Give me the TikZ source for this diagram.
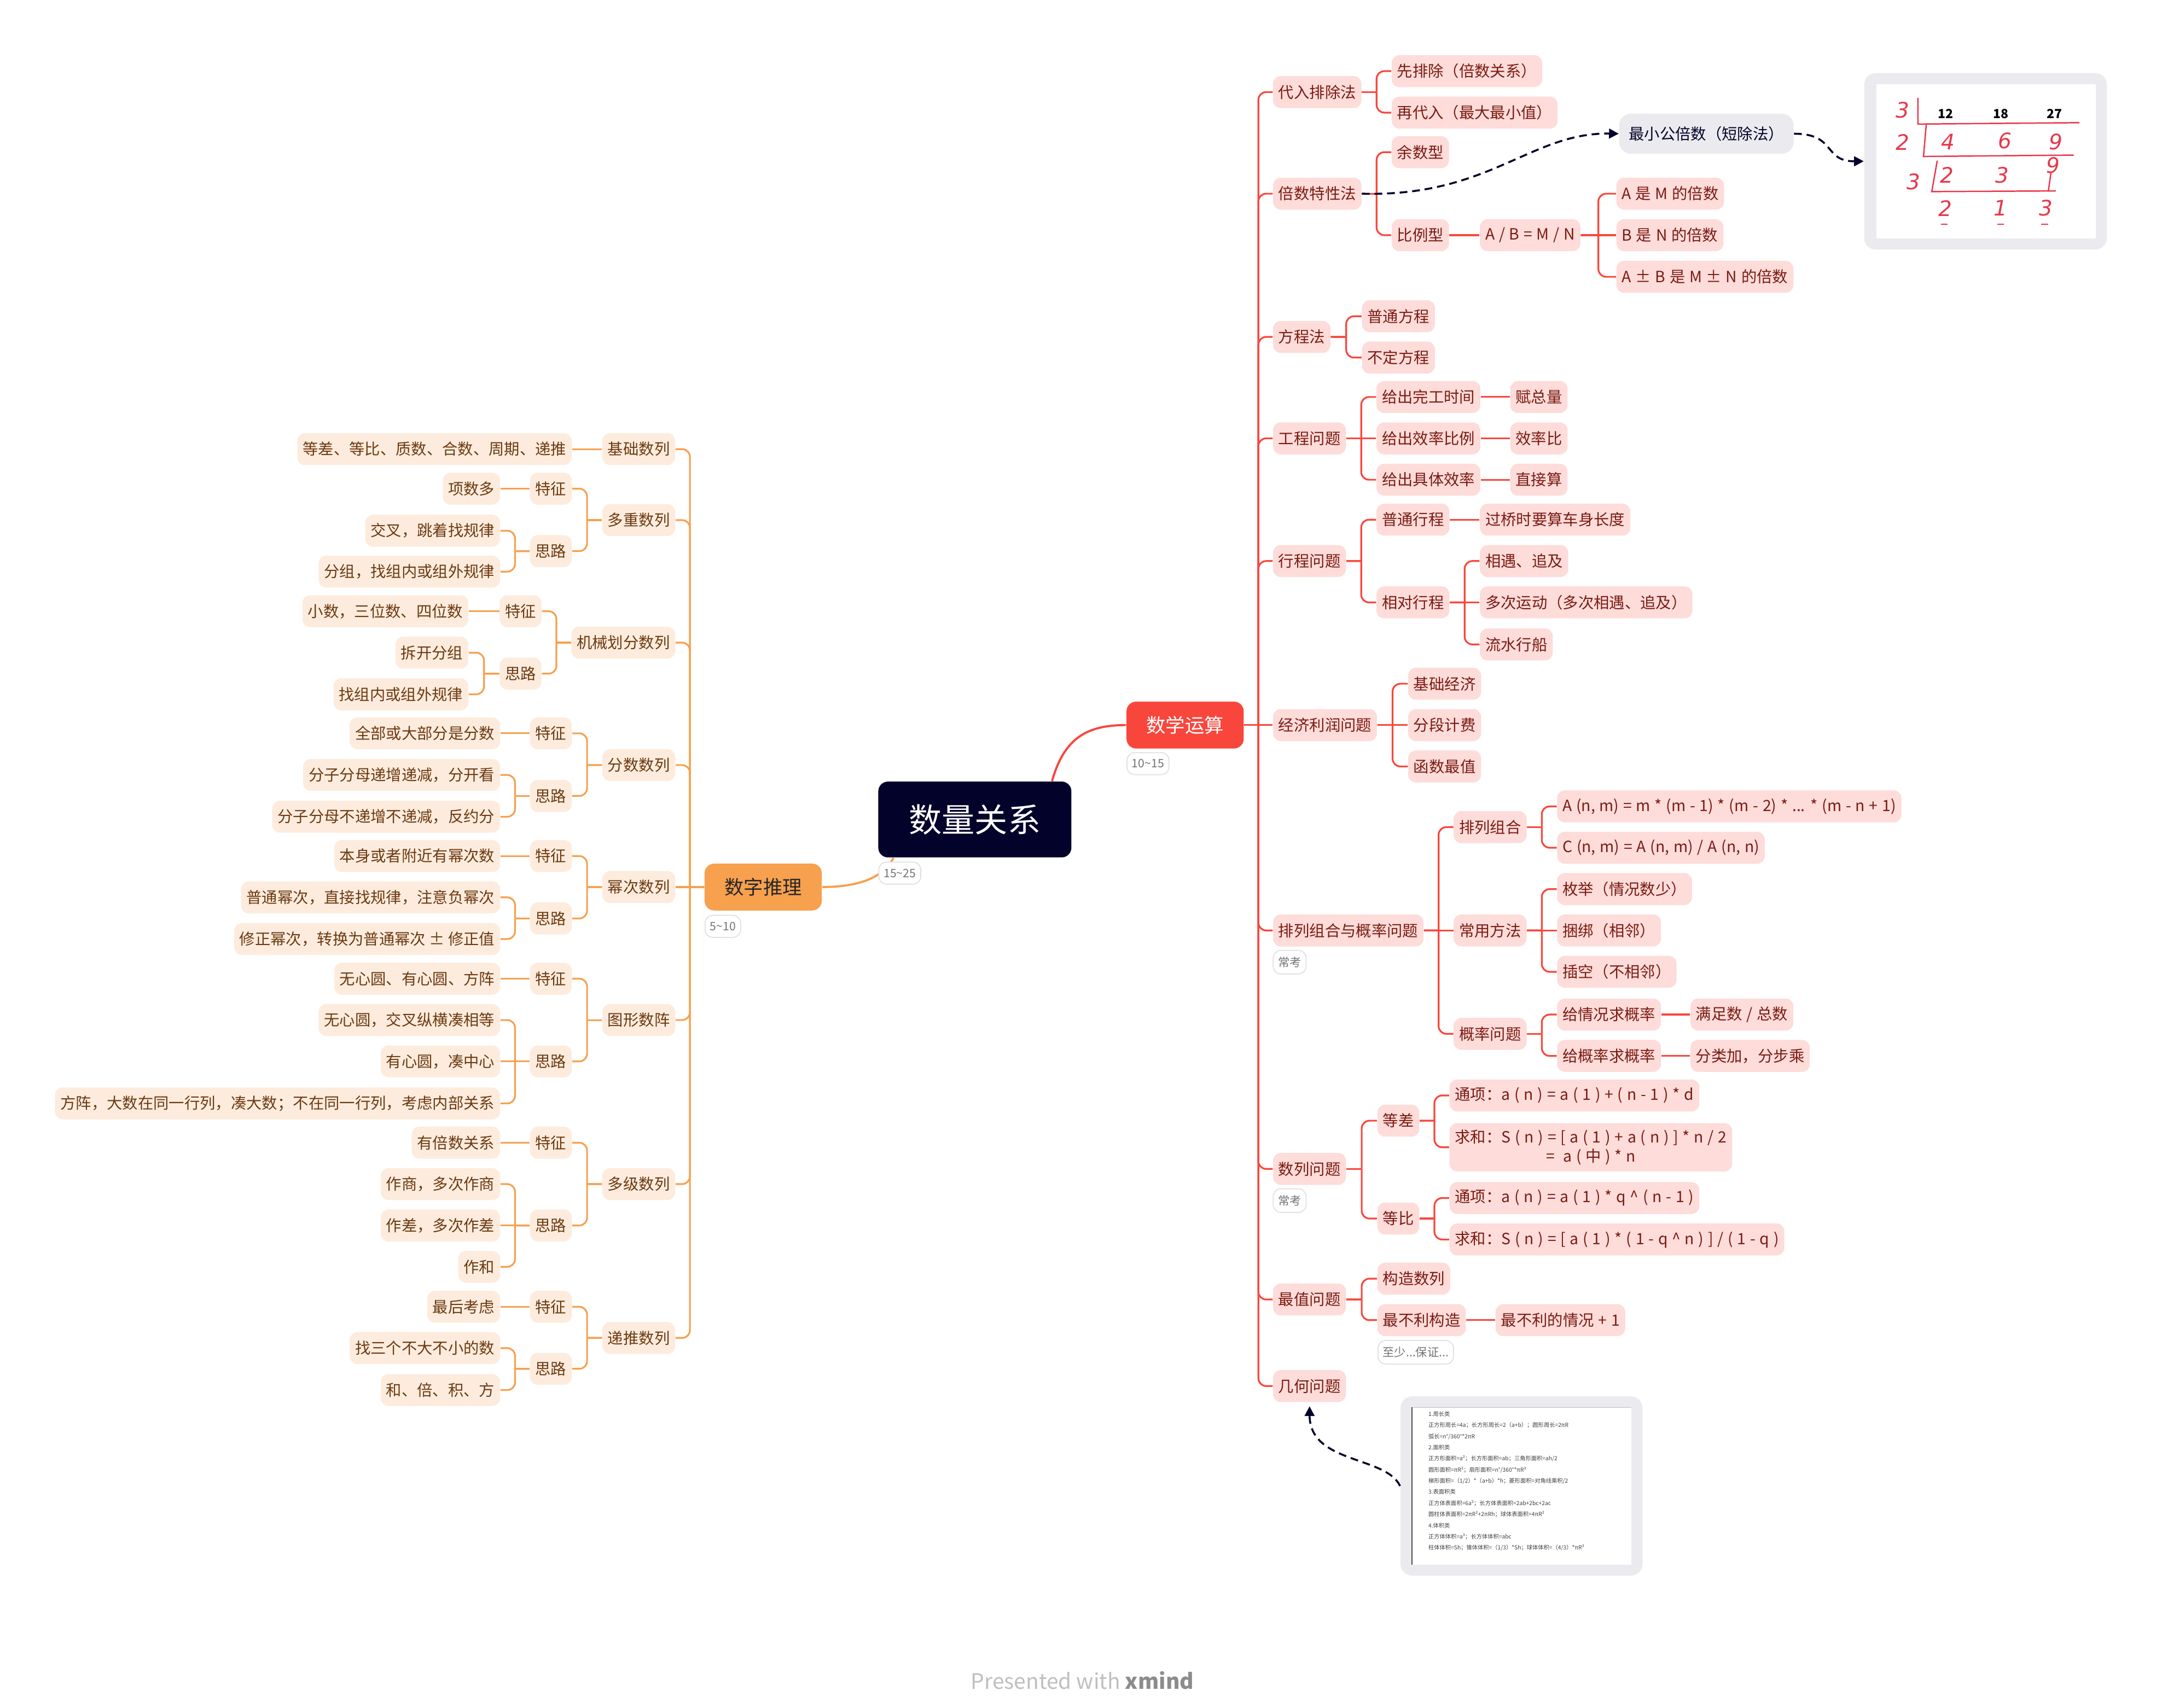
\documentclass[tikz,border=0pt]{standalone}
\usepackage{fontspec}
\setmainfont{Noto Sans CJK SC}
\newfontfamily\fmlfont{Noto Sans CJK SC}[WordSpace=1.22]
\newfontfamily\handfont{DejaVu Sans}
\usetikzlibrary{calc,arrows.meta}

\definecolor{navyc}{HTML}{02022A}
\definecolor{redc}{HTML}{F9463C}
\definecolor{pinkc}{HTML}{FDDCDA}
\definecolor{redtxt}{HTML}{7A1B12}
\definecolor{orac}{HTML}{F7A04E}
\definecolor{creamc}{HTML}{FDECDD}
\definecolor{brtxt}{HTML}{6B3A12}
\definecolor{grayc}{HTML}{EBEBEF}
\definecolor{handc}{HTML}{E8374A}

\newdimen\ya
\newdimen\yb
% right side: parent -> children, bar half way
\newcommand{\rlink}[2]{%
  \foreach \kid in {#2}{%
    \pgfextracty{\ya}{\pgfpointanchor{#1}{east}}%
    \pgfextracty{\yb}{\pgfpointanchor{\kid}{west}}%
    \pgfmathtruncatemacro{\same}{abs(\ya-\yb)<0.5}%
    \ifnum\same=1
      \draw[rline] (#1.east) -- (\kid.west);
    \else
      \draw[rline] (#1.east) -- ($(#1.east)!0.5!(#1.east -| \kid.west)$);
      \draw[rline, rounded corners=4pt] ($(#1.east)!0.5!(#1.east -| \kid.west)$) |- (\kid.west);
    \fi
  }}
% left side
\newcommand{\llink}[2]{%
  \foreach \kid in {#2}{%
    \pgfextracty{\ya}{\pgfpointanchor{#1}{west}}%
    \pgfextracty{\yb}{\pgfpointanchor{\kid}{east}}%
    \pgfmathtruncatemacro{\same}{abs(\ya-\yb)<0.5}%
    \ifnum\same=1
      \draw[oline] (#1.west) -- (\kid.east);
    \else
      \draw[oline] (#1.west) -- ($(#1.west)!0.5!(#1.west -| \kid.east)$);
      \draw[oline, rounded corners=4pt] ($(#1.west)!0.5!(#1.west -| \kid.east)$) |- (\kid.east);
    \fi
  }}

\begin{document}
\begin{tikzpicture}[x=0.025cm, y=-0.025cm,
  rline/.style={draw=redc, line width=0.9pt},
  oline/.style={draw=orac, line width=0.9pt},
  dlink/.style={draw=navyc, line width=1pt, dash pattern=on 4pt off 2.5pt, -{Triangle[length=5pt,width=5pt]}},
  rnode/.style={anchor=west, fill=pinkc, text=redtxt, rounded corners=4pt, inner xsep=2.8pt, minimum height=0.58cm, font=\fontsize{8}{10}\selectfont},
  fml/.style={font=\fmlfont\fontsize{8}{10}\selectfont},
  lnode/.style={anchor=east, fill=creamc, text=brtxt, rounded corners=4pt, inner xsep=2.8pt, minimum height=0.58cm, font=\fontsize{8}{10}\selectfont},
  pill/.style={anchor=west, fill=white, draw=black!12, line width=0.5pt, rounded corners=4pt, text=black!55, inner xsep=2.5pt, minimum height=0.4cm, font=\fontsize{6}{7}\selectfont},
  gbox/.style={fill=grayc, rounded corners=6pt},
  handnum/.style={text=handc, inner sep=0pt, font=\handfont\itshape\fontsize{11}{11}\selectfont}]

  \useasboundingbox (0,0) rectangle (1568,1239);

  % central topic and main branches
  \node[fill=navyc, text=white, rounded corners=5pt, minimum width=3.5cm, minimum height=1.375cm,
        font=\fontsize{17}{20}\selectfont] (root) at (707,594.5) {数量关系};
  \node[fill=redc, text=white, rounded corners=5pt, minimum width=2.125cm, minimum height=0.85cm,
        font=\fontsize{10}{12}\selectfont] (ma) at (859.5,526) {数学运算};
  \node[fill=orac, text=black!85, rounded corners=5pt, minimum width=2.125cm, minimum height=0.85cm,
        font=\fontsize{10}{12}\selectfont] (sz) at (553.5,643.5) {数字推理};

  \draw[redc, line width=1.1pt] ($(root.north)+(56,0)$) .. controls (772,534) and (790,526) .. (ma.west);
  \draw[orac, line width=1.1pt] ($(root.south)+(-59,0)$) .. controls (640,638) and (620,643.5) .. (sz.east);

  \node[pill] (t1) at (817,554) {10\textasciitilde 15};
  \node[pill] (t2) at (637,633.4) {15\textasciitilde 25};
  \node[pill] (t3) at (511,672) {5\textasciitilde 10};

  % ---- 数学运算 ----
  \node[rnode] (dr) at (923,66.8) {代入排除法};
  \node[rnode] (bs) at (923,140.5) {倍数特性法};
  \node[rnode] (fc) at (923,244.4) {方程法};
  \node[rnode] (gc) at (923,318) {工程问题};
  \node[rnode] (xc) at (923,407) {行程问题};
  \node[rnode] (jj) at (923,526) {经济利润问题};
  \node[rnode] (pl) at (923,675) {排列组合与概率问题};
  \node[rnode] (sl) at (923,848) {数列问题};
  \node[rnode] (zz) at (923,942.7) {最值问题};
  \node[rnode] (jh) at (923,1005.5) {几何问题};
  \node[pill] (t4) at (923,698) {常考};
  \node[pill] (t5) at (923,871) {常考};

  \node[rnode] (dr1) at (1009,51.6) {先排除（倍数关系）};
  \node[rnode] (dr2) at (1009,81.7) {再代入（最大最小值）};
  \node[rnode] (bs1) at (1009,110.4) {余数型};
  \node[rnode] (bs2) at (1009,170.6) {比例型};
  \node[rnode, fml] (bs3) at (1073,170.6) {A / B = M / N};
  \node[rnode, fml] (bs4) at (1172,140.5) {A 是 M 的倍数};
  \node[rnode, fml] (bs5) at (1172,170.6) {B 是 N 的倍数};
  \node[rnode, fml] (bs6) at (1172,200.8) {A ± B 是 M ± N 的倍数};

  \node[rnode] (fc1) at (987.5,229.4) {普通方程};
  \node[rnode] (fc2) at (987.5,259.4) {不定方程};

  \node[rnode] (gc1) at (998,288) {给出完工时间};
  \node[rnode] (gc2) at (998,318) {给出效率比例};
  \node[rnode] (gc3) at (998,348) {给出具体效率};
  \node[rnode] (gc4) at (1095,288) {赋总量};
  \node[rnode] (gc5) at (1095,318) {效率比};
  \node[rnode] (gc6) at (1095,348) {直接算};

  \node[rnode] (xc1) at (998,377) {普通行程};
  \node[rnode] (xc2) at (998,437) {相对行程};
  \node[rnode] (xc3) at (1073,377) {过桥时要算车身长度};
  \node[rnode] (xc4) at (1073,407) {相遇、追及};
  \node[rnode] (xc5) at (1073,437) {多次运动（多次相遇、追及）};
  \node[rnode] (xc6) at (1073,467.5) {流水行船};

  \node[rnode] (jj1) at (1021,496) {基础经济};
  \node[rnode] (jj2) at (1021,526) {分段计费};
  \node[rnode] (jj3) at (1021,556) {函数最值};

  \node[rnode] (pl1) at (1054,600) {排列组合};
  \node[rnode] (pl2) at (1054,675) {常用方法};
  \node[rnode] (pl3) at (1054,750) {概率问题};
  \node[rnode, fml] (pl4) at (1129,585) {A (n, m) = m * (m - 1) * (m - 2) * ... * (m - n + 1)};
  \node[rnode, fml] (pl5) at (1129,615) {C (n, m) = A (n, m) / A (n, n)};
  \node[rnode] (pl6) at (1129,645) {枚举（情况数少）};
  \node[rnode] (pl7) at (1129,675) {捆绑（相邻）};
  \node[rnode] (pl8) at (1129,705) {插空（不相邻）};
  \node[rnode] (pl9) at (1129,736) {给情况求概率};
  \node[rnode] (pl10) at (1129,766) {给概率求概率};
  \node[rnode, fml] (pl11) at (1225.7,736) {满足数 / 总数};
  \node[rnode] (pl12) at (1225.7,766) {分类加，分步乘};

  \node[rnode] (sl1) at (998.7,813) {等差};
  \node[rnode] (sl2) at (998.7,884) {等比};
  \node[rnode, fml] (sl3) at (1051,794.7) {通项：a ( n ) = a ( 1 ) + ( n - 1 ) * d};
  \node[rnode, fml, align=center] (sl4) at (1051,832.3) {求和：S ( n ) = [ a ( 1 ) + a ( n ) ] * n / 2\\ =\ \ a ( 中 ) * n};
  \node[rnode, fml] (sl5) at (1051,869.1) {通项：a ( n ) = a ( 1 ) * q \^{} ( n - 1 )};
  \node[rnode, fml] (sl6) at (1051,899.2) {求和：S ( n ) = [ a ( 1 ) * ( 1 - q \^{} n ) ] / ( 1 - q )};

  \node[rnode] (zz1) at (998.7,927.6) {构造数列};
  \node[rnode] (zz2) at (998.7,957.7) {最不利构造};
  \node[rnode, fml] (zz3) at (1084.4,957.7) {最不利的情况 + 1};
  \node[pill] (t6) at (999,981) {至少...保证...};

  \rlink{ma}{dr,bs,fc,gc,xc,jj,pl,sl,zz,jh}
  \rlink{dr}{dr1,dr2}
  \rlink{bs}{bs1,bs2}
  \rlink{bs2}{bs3}
  \rlink{bs3}{bs4,bs5,bs6}
  \rlink{fc}{fc1,fc2}
  \rlink{gc}{gc1,gc2,gc3}
  \rlink{gc1}{gc4}
  \rlink{gc2}{gc5}
  \rlink{gc3}{gc6}
  \rlink{xc}{xc1,xc2}
  \rlink{xc1}{xc3}
  \rlink{xc2}{xc4,xc5,xc6}
  \rlink{jj}{jj1,jj2,jj3}
  \rlink{pl}{pl1,pl2,pl3}
  \rlink{pl1}{pl4,pl5}
  \rlink{pl2}{pl6,pl7,pl8}
  \rlink{pl3}{pl9,pl10}
  \rlink{pl9}{pl11}
  \rlink{pl10}{pl12}
  \rlink{sl}{sl1,sl2}
  \rlink{sl1}{sl3,sl4}
  \rlink{sl2}{sl5,sl6}
  \rlink{zz}{zz1,zz2}
  \rlink{zz2}{zz3}

  % least common multiple + picture
  \node[gbox, anchor=west, text=navyc, inner xsep=5pt, minimum height=0.725cm,
        font=\fontsize{8}{10}\selectfont] (gcd) at (1174,97) {最小公倍数（短除法）};
  \node[gbox, minimum width=4.4cm, minimum height=3.2cm] (img1) at (1440,117) {};
  \fill[white] (1361,61) rectangle (1520,173);
  \draw[handc, line width=0.7pt] (1391,71) -- (1391,90) -- (1508,89);
  \draw[handc, line width=0.7pt] (1397,90.5) -- (1395,113.5) -- (1504,112.5);
  \draw[handc, line width=0.7pt] (1405,116.5) -- (1401,139) -- (1491,138.5);
  \draw[handc, line width=0.7pt] (1487.5,125) -- (1485.5,139);
  \foreach \ux in {1410,1451,1483}
    \draw[handc, line width=0.6pt] (\ux-2.5,162.5) -- (\ux+2.5,162.5);
  \foreach \i/\bx/\bt in {1/1411/12, 2/1451/18, 3/1490/27}
    \node[inner sep=0pt, font=\bfseries\fontsize{6.5}{7}\selectfont] (bn\i) at (\bx,82.5) {\bt};
  \foreach \i/\hx/\hy/\hnum in {1/1380/80/3, 2/1380/103/2, 3/1388/132/3, 4/1413/103/4, 5/1454/102/6,
      6/1491/103/9, 7/1412/127/2, 8/1452/127/3, 9/1489/120/9, 10/1411/151/2, 11/1451/151/1, 12/1484/151/3}
    \node[handnum] (hw\i) at (\hx,\hy) {\hnum};

  \draw[dlink] (bs.east) .. controls (1080,143) and (1110,96) .. (gcd.west);
  \draw[dlink] (gcd.east) .. controls (1332,97) and (1322,117) .. (img1.west);

  % geometry formulas
  \node[gbox, minimum width=4.39cm, minimum height=3.25cm] (img2) at (1103.5,1078) {};
  \fill[white] (1024,1021) rectangle (1183,1135);
  \draw[black!25, line width=0.4pt] (1024,1021) -- (1183,1021);
  \draw[black!70, line width=0.4pt] (1024,1021) -- (1024,1135);
  \node[anchor=north west, inner sep=0pt, align=left, text=black!75, font=\fontsize{2.9}{5.75}\selectfont]
    (geo) at (1035.7,1023.6) {1.周长类\\
    正方形周长=4a；长方形周长=2（a+b）；圆形周长=2πR\\
    弧长=n°/360°*2πR\\
    2.面积类\\
    正方形面积=a²；长方形面积=ab；三角形面积=ah/2\\
    圆形面积=πR²；扇形面积=n°/360°*πR²\\
    梯形面积=（1/2）*（a+b）*h；菱形面积=对角线乘积/2\\
    3.表面积类\\
    正方体表面积=6a²；长方体表面积=2ab+2bc+2ac\\
    圆柱体表面积=2πR²+2πRh；球体表面积=4πR²\\
    4.体积类\\
    正方体体积=a³；长方体体积=abc\\
    柱体体积=Sh；锥体体积=（1/3）*Sh；球体体积=（4/3）*πR³};
  \draw[dlink, shorten >=2pt] (img2.west) .. controls (1005,1056) and (950,1062) .. (jh.south);

  % ---- 数字推理 ----
  \node[lnode] (jc) at (490,325.8) {基础数列};
  \node[lnode] (dc) at (490,377.3) {多重数列};
  \node[lnode] (jx) at (490,466.2) {机械划分数列};
  \node[lnode] (fs) at (490,555) {分数数列};
  \node[lnode] (mc) at (490,643.5) {幂次数列};
  \node[lnode] (tx) at (490,740) {图形数阵};
  \node[lnode] (dj) at (490,859) {多级数列};
  \node[lnode] (dt) at (490,970.6) {递推数列};

  \node[lnode] (jc1) at (415,325.8) {等差、等比、质数、合数、周期、递推};

  \node[lnode] (dc1) at (415,354.5) {特征};
  \node[lnode] (dc2) at (415,399.8) {思路};
  \node[lnode] (dc3) at (363,354.5) {项数多};
  \node[lnode] (dc4) at (363,385) {交叉，跳着找规律};
  \node[lnode] (dc5) at (363,414.7) {分组，找组内或组外规律};

  \node[lnode] (jx1) at (393,443.4) {特征};
  \node[lnode] (jx2) at (393,488.7) {思路};
  \node[lnode] (jx3) at (340,443.4) {小数，三位数、四位数};
  \node[lnode] (jx4) at (340,473.5) {拆开分组};
  \node[lnode] (jx5) at (340,503.7) {找组内或组外规律};

  \node[lnode] (fs1) at (415,532) {特征};
  \node[lnode] (fs2) at (415,577.4) {思路};
  \node[lnode] (fs3) at (363,532) {全部或大部分是分数};
  \node[lnode] (fs4) at (363,562.2) {分子分母递增递减，分开看};
  \node[lnode] (fs5) at (363,592.5) {分子分母不递增不递减，反约分};

  \node[lnode] (mc1) at (415,621) {特征};
  \node[lnode] (mc2) at (415,666.3) {思路};
  \node[lnode] (mc3) at (363,621) {本身或者附近有幂次数};
  \node[lnode] (mc4) at (363,651) {普通幂次，直接找规律，注意负幂次};
  \node[lnode] (mc5) at (363,681.2) {修正幂次，转换为普通幂次 ± 修正值};

  \node[lnode] (tx1) at (415,710) {特征};
  \node[lnode] (tx2) at (415,770) {思路};
  \node[lnode] (tx3) at (363,710) {无心圆、有心圆、方阵};
  \node[lnode] (tx4) at (363,740) {无心圆，交叉纵横凑相等};
  \node[lnode] (tx5) at (363,770) {有心圆，凑中心};
  \node[lnode] (tx6) at (363,800.5) {方阵，大数在同一行列，凑大数；不在同一行列，考虑内部关系};

  \node[lnode] (dj1) at (415,829) {特征};
  \node[lnode] (dj2) at (415,889) {思路};
  \node[lnode] (dj3) at (363,829) {有倍数关系};
  \node[lnode] (dj4) at (363,859) {作商，多次作商};
  \node[lnode] (dj5) at (363,889) {作差，多次作差};
  \node[lnode] (dj6) at (363,919) {作和};

  \node[lnode] (dt1) at (415,948) {特征};
  \node[lnode] (dt2) at (415,993) {思路};
  \node[lnode] (dt3) at (363,948) {最后考虑};
  \node[lnode] (dt4) at (363,978) {找三个不大不小的数};
  \node[lnode] (dt5) at (363,1008.4) {和、倍、积、方};

  \llink{sz}{jc,dc,jx,fs,mc,tx,dj,dt}
  \llink{jc}{jc1}
  \llink{dc}{dc1,dc2}
  \llink{dc1}{dc3}
  \llink{dc2}{dc4,dc5}
  \llink{jx}{jx1,jx2}
  \llink{jx1}{jx3}
  \llink{jx2}{jx4,jx5}
  \llink{fs}{fs1,fs2}
  \llink{fs1}{fs3}
  \llink{fs2}{fs4,fs5}
  \llink{mc}{mc1,mc2}
  \llink{mc1}{mc3}
  \llink{mc2}{mc4,mc5}
  \llink{tx}{tx1,tx2}
  \llink{tx1}{tx3}
  \llink{tx2}{tx4,tx5,tx6}
  \llink{dj}{dj1,dj2}
  \llink{dj1}{dj3}
  \llink{dj2}{dj4,dj5,dj6}
  \llink{dt}{dt1,dt2}
  \llink{dt1}{dt3}
  \llink{dt2}{dt4,dt5}

  \node[font=\fontsize{11}{13}\selectfont] (foot) at (785,1219)
    {\textcolor{black!25}{Presented with} \textcolor{black!45}{\bfseries xmind}};

\end{tikzpicture}
\end{document}
